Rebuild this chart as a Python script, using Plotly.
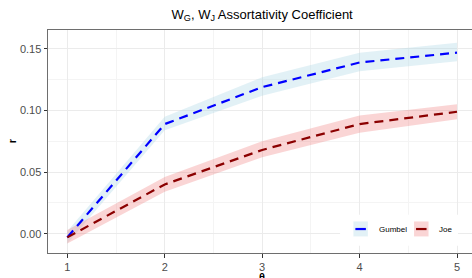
import plotly.graph_objects as go

theta = [1, 2, 3, 4, 5]
gumbel_r = [-0.003, 0.089, 0.119, 0.139, 0.147]
gumbel_lo = [-0.008, 0.084, 0.112, 0.132, 0.140]
gumbel_hi = [0.002, 0.095, 0.127, 0.147, 0.155]
joe_r = [-0.003, 0.040, 0.068, 0.089, 0.099]
joe_lo = [-0.008, 0.034, 0.062, 0.082, 0.093]
joe_hi = [0.003, 0.046, 0.075, 0.096, 0.105]
series_names = ["Gumbel", "Joe"]

W, H = 472, 278
L, R, T, B = 47.7, 472, 30, 253.3

def px(x):
    return (x - L) / (R - L)

def py(y):
    return (B - y) / (B - T)

fig = go.Figure()

def ribbon(lo, hi, color):
    fig.add_trace(go.Scatter(x=theta + theta[::-1], y=hi + lo[::-1], fill="toself",
                             fillcolor=color, line=dict(width=0), mode="lines",
                             showlegend=False, hoverinfo="skip"))

ribbon(gumbel_lo, gumbel_hi, "rgba(173,216,230,0.35)")
ribbon(joe_lo, joe_hi, "rgba(240,128,128,0.33)")

fig.add_trace(go.Scatter(x=theta, y=gumbel_r, mode="lines", name=series_names[0],
                         line=dict(color="#0000ff", width=2.2, dash="9px,6px"), showlegend=False))
fig.add_trace(go.Scatter(x=theta, y=joe_r, mode="lines", name=series_names[1],
                         line=dict(color="#8b0000", width=2.2, dash="9px,6px"), showlegend=False))

shapes = []
annotations = []
# legend background
shapes.append(dict(type="rect", xref="paper", yref="paper", x0=px(340), x1=px(458),
                   y0=py(246), y1=py(215), fillcolor="white", line=dict(width=0), layer="above"))
keys = [(353.3, "rgba(173,216,230,0.35)", "#0000ff", series_names[0], 376.5),
        (414.0, "rgba(240,128,128,0.33)", "#8b0000", series_names[1], 436.5)]
for kx, fc, lc, name, tx in keys:
    shapes.append(dict(type="rect", xref="paper", yref="paper", x0=px(kx), x1=px(kx + 14.5),
                       y0=py(236.7), y1=py(221.7), fillcolor=fc, line=dict(width=0), layer="above"))
    shapes.append(dict(type="line", xref="paper", yref="paper", x0=px(kx + 2), x1=px(kx + 12.5),
                       y0=py(229.3), y1=py(229.3), line=dict(color=lc, width=2.2), layer="above"))
    annotations.append(dict(text=name, xref="paper", yref="paper", x=px(tx), y=py(229.5),
                            xanchor="left", yanchor="middle", showarrow=False,
                            font=dict(size=8, color="black")))

# axis titles
annotations.append(dict(text="<b>r</b>", xref="paper", yref="paper", x=px(12), y=py(141),
                        xanchor="center", yanchor="middle", showarrow=False, textangle=-90,
                        font=dict(size=11, color="black")))
annotations.append(dict(text="<b>θ</b>", xref="paper", yref="paper", x=px(262), y=py(269.5),
                        xanchor="center", yanchor="top", showarrow=False,
                        font=dict(size=11, color="black")))

fig.update_layout(
    width=W, height=H,
    margin=dict(l=L, r=W - R, t=T, b=H - B, pad=0, autoexpand=False),
    paper_bgcolor="white", plot_bgcolor="white",
    font=dict(family="Liberation Sans, Arial, sans-serif"),
    title=dict(text="W<sub>G</sub>, W<sub>J</sub> Assortativity Coefficient",
               x=px(262), xref="paper", xanchor="center", y=1 - 14 / H, yanchor="middle",
               font=dict(size=13, color="black")),
    shapes=shapes, annotations=annotations,
    showlegend=False,
)
fig.update_xaxes(range=[0.802, 5.154], tickvals=[1, 2, 3, 4, 5], ticktext=["1", "2", "3", "4", "5"],
                 automargin=False,
                 showgrid=True, gridcolor="#ebebeb", gridwidth=1,
                 minor=dict(tickvals=[1.5, 2.5, 3.5, 4.5], showgrid=True, gridcolor="#f4f4f4", gridwidth=1),
                 ticks="outside", ticklen=3.5, tickcolor="#333333", tickwidth=1,
                 tickfont=dict(size=11, color="#4d4d4d"),
                 showline=True, linecolor="#6e6e6e", linewidth=1, mirror=True, zeroline=False)
fig.update_yaxes(range=[-0.0157, 0.1654], tickvals=[0, 0.05, 0.10, 0.15],
                 ticktext=["0.00", "0.05", "0.10", "0.15"],
                 automargin=False,
                 showgrid=True, gridcolor="#ebebeb", gridwidth=1,
                 minor=dict(tickvals=[0.025, 0.075, 0.125], showgrid=True, gridcolor="#f4f4f4", gridwidth=1),
                 ticks="outside", ticklen=3.5, tickcolor="#333333", tickwidth=1,
                 tickfont=dict(size=11, color="#4d4d4d"),
                 showline=True, linecolor="#6e6e6e", linewidth=1, mirror=True, zeroline=False)

fig.write_html("out.html", config={"displayModeBar": False},
               post_script="document.body.style.margin='0';document.body.style.overflow='hidden';")
